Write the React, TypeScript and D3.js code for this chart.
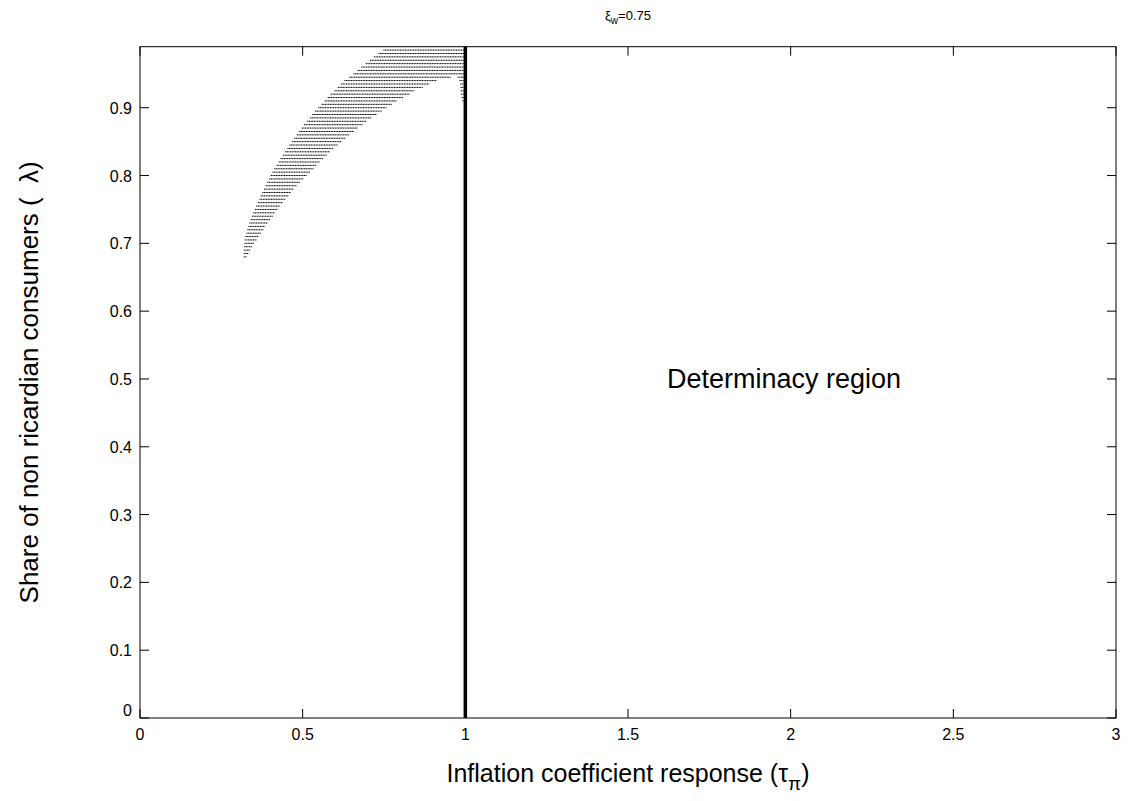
import React, { useEffect, useRef } from "react";
import * as d3 from "d3";

// rows of the indeterminacy region (lambda grid) and where each row starts / ends in tau
const lambdaRows = [
  0.985, 0.98, 0.975, 0.97, 0.965, 0.96, 0.955, 0.95, 0.945, 0.94, 0.935, 0.93,
  0.925, 0.92, 0.915, 0.91, 0.905, 0.9, 0.895, 0.89, 0.885, 0.88, 0.875, 0.87,
  0.865, 0.86, 0.855, 0.85, 0.845, 0.84, 0.835, 0.83, 0.825, 0.82, 0.815, 0.81,
  0.805, 0.8, 0.795, 0.79, 0.785, 0.78, 0.775, 0.77, 0.765, 0.76, 0.755, 0.75,
  0.745, 0.74, 0.735, 0.73, 0.725, 0.72, 0.715, 0.71, 0.705, 0.7, 0.695, 0.69,
  0.685, 0.68,
];
const tauLeft = [
  0.748, 0.733, 0.719, 0.707, 0.694, 0.68, 0.669, 0.656, 0.643, 0.628, 0.618, 0.608,
  0.598, 0.586, 0.577, 0.567, 0.558, 0.548, 0.538, 0.529, 0.523, 0.514, 0.504, 0.497,
  0.489, 0.482, 0.474, 0.467, 0.459, 0.453, 0.446, 0.439, 0.432, 0.426, 0.42, 0.413,
  0.407, 0.402, 0.397, 0.391, 0.386, 0.381, 0.376, 0.371, 0.367, 0.362, 0.357, 0.353,
  0.348, 0.344, 0.34, 0.336, 0.333, 0.33, 0.327, 0.324, 0.322, 0.321, 0.32, 0.319,
  0.319, 0.319,
];
const tauRight = [
  0.995, 0.995, 0.995, 0.995, 0.995, 0.995, 0.995, 0.995, 0.955, 0.912, 0.889, 0.869,
  0.843, 0.828, 0.808, 0.789, 0.774, 0.758, 0.743, 0.728, 0.712, 0.697, 0.684, 0.669,
  0.658, 0.643, 0.632, 0.62, 0.608, 0.594, 0.584, 0.574, 0.564, 0.553, 0.543, 0.533,
  0.523, 0.512, 0.502, 0.492, 0.482, 0.473, 0.464, 0.456, 0.448, 0.439, 0.43, 0.422,
  0.415, 0.408, 0.4, 0.393, 0.385, 0.379, 0.372, 0.365, 0.359, 0.351, 0.345, 0.338,
  0.333, 0.328,
];
// small pieces hugging the tau = 1 line below the notch
const sliverRows = [0.945, 0.94, 0.935, 0.93, 0.925, 0.92, 0.915, 0.91];
const sliverLeft = [0.976, 0.982, 0.984, 0.985, 0.986, 0.987, 0.988, 0.99];
const sliverRight = [0.995, 0.995, 0.995, 0.995, 0.995, 0.995, 0.995, 0.995];

const boundaryTau = 1;
const xTicks = [0, 0.5, 1, 1.5, 2, 2.5, 3];
const xTickLabels = ["0", "0.5", "1", "1.5", "2", "2.5", "3"];
const yTicks = [0, 0.1, 0.2, 0.3, 0.4, 0.5, 0.6, 0.7, 0.8, 0.9];
const yTickLabels = ["0", "0.1", "0.2", "0.3", "0.4", "0.5", "0.6", "0.7", "0.8", "0.9"];
const xDomain = [0, 3];
const yDomain = [0, 0.99];

const FONT = "'Liberation Sans', Arial, Helvetica, sans-serif";

export default function App() {
  const ref = useRef<SVGSVGElement>(null);

  useEffect(() => {
    var svg = d3.select(ref.current);
    svg.selectAll("*").remove();

    var margin = { top: 46.7, right: 15, bottom: 83, left: 140 };
    var W = 1131;
    var H = 801;
    var x = d3.scaleLinear().domain(xDomain).range([margin.left, W - margin.right]);
    var y = d3.scaleLinear().domain(yDomain).range([H - margin.bottom, margin.top]);
    var x0 = margin.left,
      x1 = W - margin.right,
      y0 = H - margin.bottom,
      y1 = margin.top;

    svg.append("rect").attr("width", W).attr("height", H).attr("fill", "#fff");

    // region rows, drawn as dotted grid lines
    var rows = svg.append("g").attr("stroke", "#000").attr("stroke-width", 1).attr("stroke-dasharray", "1.2 0.45");
    lambdaRows.forEach(function (l, i) {
      rows
        .append("line")
        .attr("x1", x(tauLeft[i]))
        .attr("x2", x(tauRight[i]))
        .attr("y1", y(l))
        .attr("y2", y(l));
    });
    sliverRows.forEach(function (l, i) {
      rows
        .append("line")
        .attr("x1", x(sliverLeft[i]))
        .attr("x2", x(sliverRight[i]))
        .attr("y1", y(l))
        .attr("y2", y(l));
    });

    // boundary at tau = 1
    svg
      .append("line")
      .attr("x1", x(boundaryTau))
      .attr("x2", x(boundaryTau))
      .attr("y1", y(yDomain[0]))
      .attr("y2", y(yDomain[1]))
      .attr("stroke", "#000")
      .attr("stroke-width", 3.5);

    // box
    svg
      .append("rect")
      .attr("x", x0)
      .attr("y", y1)
      .attr("width", x1 - x0)
      .attr("height", y0 - y1)
      .attr("fill", "none")
      .attr("stroke", "#000")
      .attr("stroke-width", 1);

    var tl = 9;
    var ticks = svg.append("g").attr("stroke", "#000").attr("stroke-width", 1);
    xTicks.forEach(function (t) {
      ticks.append("line").attr("x1", x(t)).attr("x2", x(t)).attr("y1", y0).attr("y2", y0 - tl);
      ticks.append("line").attr("x1", x(t)).attr("x2", x(t)).attr("y1", y1).attr("y2", y1 + tl);
    });
    yTicks.forEach(function (t) {
      ticks.append("line").attr("x1", x0).attr("x2", x0 + tl).attr("y1", y(t)).attr("y2", y(t));
      ticks.append("line").attr("x1", x1).attr("x2", x1 - tl).attr("y1", y(t)).attr("y2", y(t));
    });

    var labels = svg.append("g").attr("font-family", FONT).attr("fill", "#000");
    xTicks.forEach(function (t, i) {
      labels
        .append("text")
        .attr("x", x(t))
        .attr("y", y0 + 22)
        .attr("text-anchor", "middle")
        .attr("font-size", 16)
        .text(xTickLabels[i]);
    });
    yTicks.forEach(function (t, i) {
      labels
        .append("text")
        .attr("x", x0 - 8)
        .attr("y", y(t) + (i === 0 ? -2 : 6))
        .attr("text-anchor", "end")
        .attr("font-size", 16)
        .text(yTickLabels[i]);
    });

    // title
    var title = labels
      .append("text")
      .attr("x", (x0 + x1) / 2)
      .attr("y", 20)
      .attr("text-anchor", "middle")
      .attr("font-size", 13);
    title.append("tspan").text("ξ");
    title.append("tspan").attr("font-size", 10).attr("dy", 4).text("w");
    title.append("tspan").attr("dy", -4).text("=0.75");

    // x label
    var xl = labels
      .append("text")
      .attr("x", (x0 + x1) / 2)
      .attr("y", y0 + 64)
      .attr("text-anchor", "middle")
      .attr("font-size", 25);
    xl.append("tspan").text("Inflation coefficient response (τ");
    xl.append("tspan").attr("font-size", 19).attr("dy", 8).text("π");
    xl.append("tspan").attr("dy", -8).text(")");

    // y label
    labels
      .append("text")
      .attr("transform", "translate(38," + (y0 + y1) / 2 + ") rotate(-90)")
      .attr("text-anchor", "middle")
      .attr("font-size", 26)
      .style("white-space", "pre")
      .text("Share of non ricardian consumers (  λ)");

    labels
      .append("text")
      .attr("x", x(1.62))
      .attr("y", y(0.5) + 9)
      .attr("font-size", 27)
      .text("Determinacy region");
  }, []);

  return (
    <div style={{ position: "absolute", left: 0, top: 0 }}>
      <svg ref={ref} width={1131} height={801} style={{ display: "block" }}></svg>
    </div>
  );
}
